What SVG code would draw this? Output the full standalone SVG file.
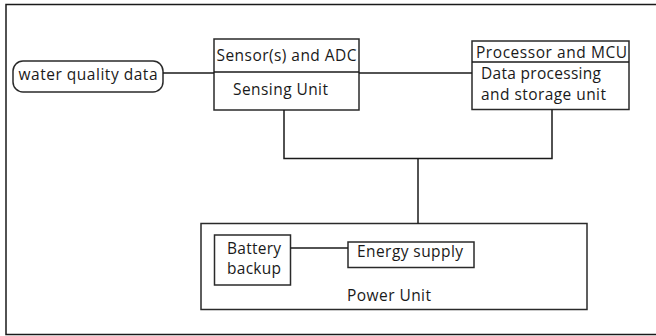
<svg xmlns="http://www.w3.org/2000/svg" width="656" height="336" viewBox="0 0 656 336">
<style>
.box{fill:#fff;stroke:#2a2a2a;stroke-width:1.5}
.ln{fill:none;stroke:#1a1a1a;stroke-width:1.5}
.t{font-family:"Open Sans","Liberation Sans",sans-serif;font-size:15.5px;fill:#1a1a1a}
</style>
<rect width="656" height="336" fill="#fff"/>
<path class="ln" d="M656 4.5H6V334.5H656" stroke-width="2"/>
<g id="water">
<rect class="box" x="13" y="61" width="150" height="31" rx="10" ry="10"/>
<text class="t" x="18.5" y="80" textLength="139">water quality data</text>
</g>
<g id="sensing">
<rect class="box" x="214" y="39" width="145" height="71"/>
<path class="ln" d="M214 72H359"/>
<text class="t" x="216.5" y="61" textLength="140">Sensor(s) and ADC</text>
<text class="t" x="233" y="95" textLength="95">Sensing Unit</text>
</g>
<g id="processor">
<rect class="box" x="472" y="41" width="157" height="68.5"/>
<path class="ln" d="M472 62H629"/>
<text class="t" x="476" y="57.5" textLength="151">Processor and MCU</text>
<text class="t" x="481" y="79" textLength="120">Data processing</text>
<text class="t" x="481" y="100" textLength="125">and storage unit</text>
</g>
<g id="power">
<rect class="box" x="201" y="223.5" width="386" height="86"/>
<text class="t" x="347" y="301" textLength="84">Power Unit</text>
</g>
<g id="battery">
<rect class="box" x="214.5" y="235" width="76" height="50"/>
<text class="t" x="227" y="253.5" textLength="54">Battery</text>
<text class="t" x="227" y="273.5" textLength="54">backup</text>
</g>
<g id="energy">
<rect class="box" x="348" y="242" width="126" height="25.5"/>
<text class="t" x="357" y="257" textLength="106">Energy supply</text>
</g>
<g id="connectors">
<path class="ln" d="M163 73H214"/>
<path class="ln" d="M359 73H472"/>
<path class="ln" d="M284 110V158.5H552V109.5"/>
<path class="ln" d="M418 158.5V223.5"/>
<path class="ln" d="M290.5 248H348"/>
</g>
</svg>
